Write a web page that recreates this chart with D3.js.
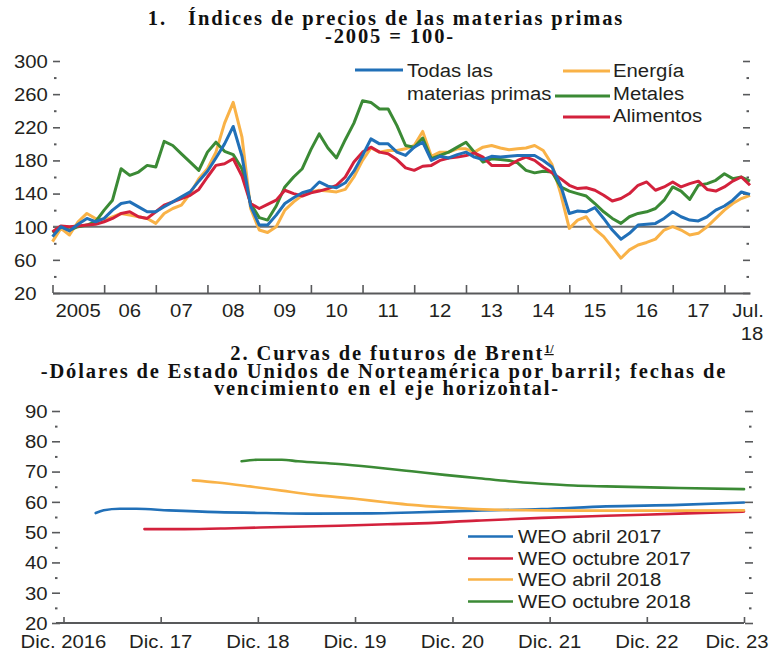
<!DOCTYPE html>
<html>
<head>
<meta charset="utf-8">
<script src="https://cdn.jsdelivr.net/npm/d3@7"></script>
<style>
  body { margin: 0; background: #fff; }
  svg { display: block; }
  text { white-space: pre; }
</style>
</head>
<body>
<svg id="chart" width="773" height="654"></svg>
<script>
// ---------- Panel 1: commodity price indices, 2005 = 100 (bimonthly, Jan 2005 – Jul 2018) ----------
const indexDates = d3.timeMonth.every(2).range(new Date(2005, 0, 1), new Date(2018, 6, 2));

const allCommodities = [
  88,100,95,103,110,106, 110,120,128,130,124,118, 118,124,130,136,142,155,
  167,183,200,221,185,125, 102,102,114,128,135,141, 144,154,149,147,153,167,
  186,206,200,200,190,186, 196,202,180,185,183,187, 190,184,181,185,184,185,
  186,186,186,180,172,150, 116,119,118,123,110,96, 85,92,102,103,104,110,
  118,112,108,107,112,120, 125,132,142,139
];
const energy = [
  82,98,90,106,116,110, 108,112,116,114,112,110, 104,116,122,126,140,158,
  170,190,225,250,208,122, 96,93,100,120,130,138, 142,144,143,142,145,160,
  180,195,190,192,192,194, 198,215,185,190,190,194, 194,190,196,198,195,193,
  194,195,198,192,175,140, 98,108,112,97,88,75, 62,72,78,81,85,96,
  100,96,90,92,100,110, 120,128,134,138
];
const metals = [
  93,100,96,100,102,106, 120,132,170,162,166,174, 172,203,198,188,178,168,
  190,202,191,187,170,128, 111,108,125,148,160,170, 193,212,195,183,205,225,
  252,250,242,242,222,198, 196,207,182,186,190,196, 202,190,178,182,181,180,
  177,168,165,167,166,148, 143,140,137,128,118,110, 104,112,116,118,122,132,
  148,143,133,150,152,156, 164,158,160,155
];
const food = [
  94,101,100,101,102,103, 106,110,116,118,112,110, 118,126,130,134,138,145,
  160,174,176,182,161,128, 122,127,132,144,140,137, 141,143,146,150,160,178,
  190,196,190,188,181,171, 168,173,174,180,183,184, 186,189,184,174,174,174,
  180,184,180,172,165,158, 150,146,147,144,138,131, 134,140,150,154,144,148,
  154,148,152,155,145,143, 148,155,160,150
];
const yearLabels = ["2005","06","07","08","09","10","11","12","13","14","15","16","17"];
const indexTicks = [20, 60, 100, 140, 180, 220, 260, 300];
const indexMinor = [40, 80, 120, 160, 200, 240, 280];

// ---------- Panel 2: Brent futures curves (months after Dec 2016, USD per barrel) ----------
const futuresBase = new Date(2016, 11, 1);
const weoApr17Months = [4,5,7,9,13,19,25,31,38,43,51,59,67,76,84];
const weoApr17 = [56.3,57.2,57.7,57.7,57.2,56.6,56.3,56.1,56.2,56.5,57.1,57.6,58.5,59.0,59.8];
const weoOct17Months = [10,15,21,27,34,40,43,51,59,67,76,84];
const weoOct17 = [51.0,51.0,51.3,51.7,52.1,52.6,52.8,53.8,54.7,55.4,56.1,56.8];
const weoApr18Months = [16,19,23,27,31,36,40,43,47,51,55,59,67,76,84];
const weoApr18 = [67.1,66.4,65.1,63.7,62.3,61.0,59.8,59.0,58.2,57.6,57.3,57.2,57.1,57.1,57.2];
const weoOct18Months = [22,24,27,29,34,38,43,47,51,55,59,63,67,76,84];
const weoOct18 = [73.4,73.9,73.9,73.4,72.5,71.5,70.1,68.9,67.9,66.8,66.0,65.4,65.1,64.6,64.2];
const futuresLabels = ["Dic. 2016","Dic. 17","Dic. 18","Dic. 19","Dic. 20","Dic. 21","Dic. 22","Dic. 23"];
const futuresTicks = [20, 30, 40, 50, 60, 70, 80, 90];
const futuresMinor = [25, 35, 45, 55, 65, 75, 85];

// ---------- shared styling ----------
const SANS = '"Liberation Sans", Arial, Helvetica, sans-serif';
const SERIF = '"Liberation Serif", "Times New Roman", serif';
const INK = "#231f20";
const AXIS = "#58595b";
const SX = 1.07;           // slightly widened sans lettering
const C = { blue: "#2170b8", orange: "#f9b247", green: "#3b8a35", red: "#d3213c" };

const svg = d3.select("#chart");

function label(x, y, str, anchor = "middle") {
  return svg.append("text")
    .attr("transform", `translate(${x},${y}) scale(${SX},1)`)
    .attr("text-anchor", anchor)
    .attr("font-family", SANS)
    .attr("font-size", 19)
    .attr("fill", INK)
    .text(str);
}

function title(x, y, str) {
  return svg.append("text")
    .attr("x", x).attr("y", y)
    .attr("text-anchor", "middle")
    .attr("font-family", SERIF)
    .attr("font-weight", "bold")
    .attr("font-size", 20.5)
    .attr("letter-spacing", 1.9)
    .attr("fill", "#111")
    .text(str);
}

function styleAxis(g, width = 1.6) {
  g.select(".domain").remove();
  g.selectAll(".tick line").attr("stroke", AXIS).attr("stroke-width", width);
  g.selectAll(".tick text").remove();
}

// ================= Panel 1 =================
title(386, 25, "1.   Índices de precios de las materias primas");
title(390, 43, "-2005 = 100-");

const x1 = d3.scaleTime().domain([new Date(2005, 0, 1), new Date(2018, 6, 1)]).range([52.5, 750]);
const y1 = d3.scaleLinear().domain([20, 300]).range([293, 61]);

// left / right tick marks
svg.append("g").attr("transform", "translate(53,0)")
  .call(d3.axisRight(y1).tickValues(indexTicks).tickSize(7)).call(styleAxis);
svg.append("g").attr("transform", "translate(54,0)")
  .call(d3.axisRight(y1).tickValues(indexMinor).tickSize(2.5)).call(g => styleAxis(g, 2));
svg.append("g").attr("transform", "translate(750,0)")
  .call(d3.axisLeft(y1).tickValues(indexTicks).tickSize(7)).call(styleAxis);
svg.append("g").attr("transform", "translate(749,0)")
  .call(d3.axisLeft(y1).tickValues(indexMinor).tickSize(2.5)).call(g => styleAxis(g, 2));

indexTicks.forEach(v => label(14, y1(v) + 6.8, String(v), "start"));

// reference line at 100
svg.append("line")
  .attr("x1", 53).attr("x2", 750).attr("y1", y1(100)).attr("y2", y1(100))
  .attr("stroke", "#6d6e71").attr("stroke-width", 2);

// bottom axis with upward year ticks
const gx1 = svg.append("g").attr("transform", "translate(0,293)")
  .call(d3.axisBottom(x1)
    .tickValues(d3.timeYear.range(new Date(2005, 0, 1), new Date(2018, 1, 1)))
    .tickSizeInner(-8).tickSizeOuter(0).tickFormat(""));
gx1.select(".domain").attr("stroke", AXIS).attr("stroke-width", 1.8);
gx1.selectAll(".tick line").attr("stroke", AXIS).attr("stroke-width", 1.6);

yearLabels.forEach((t, i) => label(x1(new Date(2005 + i, 6, 1)), 317, t));
label(748, 317, "Jul.");
label(752, 340, "18");

// series
const line1 = d3.line().x((d, i) => x1(indexDates[i])).y(d => y1(d));
[[energy, C.orange], [metals, C.green], [food, C.red], [allCommodities, C.blue]].forEach(([s, col]) => {
  svg.append("path").datum(s)
    .attr("d", line1)
    .attr("fill", "none").attr("stroke", col)
    .attr("stroke-width", 3).attr("stroke-linejoin", "round");
});

// legend
const leg1 = [
  { x0: 355, x1: 403, y: 70, col: C.blue },
  { x0: 563, x1: 610, y: 71, col: C.orange },
  { x0: 555, x1: 610, y: 96, col: C.green },
  { x0: 563, x1: 610, y: 117, col: C.red }
];
leg1.forEach(d => svg.append("line")
  .attr("x1", d.x0).attr("x2", d.x1).attr("y1", d.y).attr("y2", d.y)
  .attr("stroke", d.col).attr("stroke-width", 3));
label(407, 77, "Todas las", "start");
label(407, 100, "materias primas", "start");
label(613, 77, "Energía", "start");
label(613, 100, "Metales", "start");
label(613, 122, "Alimentos", "start");

// ================= Panel 2 =================
const t2 = title(392, 360, "2. Curvas de futuros de Brent");
t2.append("tspan").attr("font-size", 12).attr("dy", -7).attr("letter-spacing", 0)
  .attr("text-decoration", "underline").text("1/");
title(384, 378, "-Dólares de Estado Unidos de Norteamérica por barril; fechas de");
title(387, 395, "vencimiento en el eje horizontal-");

const x2 = d3.scaleTime().domain([futuresBase, new Date(2023, 11, 1)]).range([63.5, 744]);
const y2 = d3.scaleLinear().domain([20, 90]).range([623, 411]);

svg.append("g").attr("transform", "translate(52,0)")
  .call(d3.axisRight(y2).tickValues(futuresTicks).tickSize(8)).call(styleAxis);
svg.append("g").attr("transform", "translate(55,0)")
  .call(d3.axisRight(y2).tickValues(futuresMinor).tickSize(2.5)).call(g => styleAxis(g, 2));
svg.append("g").attr("transform", "translate(745,0)")
  .call(d3.axisRight(y2).tickValues(futuresTicks).tickSize(8)).call(styleAxis);
svg.append("g").attr("transform", "translate(749,0)")
  .call(d3.axisRight(y2).tickValues(futuresMinor).tickSize(2.5)).call(g => styleAxis(g, 2));

futuresTicks.forEach(v => label(25, y2(v) + 6.8, String(v), "start"));

svg.append("line").attr("x1", 56).attr("x2", 744).attr("y1", 623).attr("y2", 623)
  .attr("stroke", AXIS).attr("stroke-width", 1.8);
const decTicks = d3.range(0, 8).map(k => new Date(2016 + k, 11, 1));
const gx2 = svg.append("g").attr("transform", "translate(0,623)")
  .call(d3.axisBottom(x2).tickValues(decTicks).tickSizeInner(-6).tickSizeOuter(0).tickFormat(""));
gx2.select(".domain").remove();
gx2.selectAll(".tick line").attr("stroke", AXIS).attr("stroke-width", 1.6);

futuresLabels.forEach((t, i) => label(i === 7 ? 737 : x2(decTicks[i]), 648, t));

const line2 = d3.line()
  .x(d => x2(d3.timeMonth.offset(futuresBase, d[0])))
  .y(d => y2(d[1]))
  .curve(d3.curveMonotoneX);
const curves = [
  { m: weoApr17Months, v: weoApr17, col: C.blue, name: "WEO abril 2017" },
  { m: weoOct17Months, v: weoOct17, col: C.red, name: "WEO octubre 2017" },
  { m: weoApr18Months, v: weoApr18, col: C.orange, name: "WEO abril 2018" },
  { m: weoOct18Months, v: weoOct18, col: C.green, name: "WEO octubre 2018" }
];
curves.forEach(c => {
  svg.append("path").datum(c.m.map((m, i) => [m, c.v[i]]))
    .attr("d", line2).attr("fill", "none")
    .attr("stroke", c.col).attr("stroke-width", 2.6).attr("stroke-linecap", "round");
});

// legend
const legY = [536.5, 558.5, 579.5, 601.5];
curves.forEach((c, i) => {
  svg.append("line").attr("x1", 468).attr("x2", 513).attr("y1", legY[i]).attr("y2", legY[i])
    .attr("stroke", c.col).attr("stroke-width", 2.6);
  label(518, legY[i] + 6.8, c.name, "start");
});
</script>
</body>
</html>
